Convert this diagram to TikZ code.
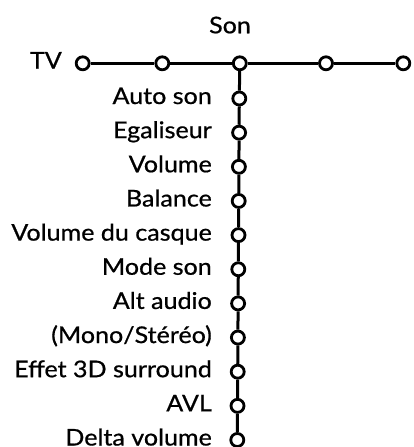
\documentclass[tikz,border=0pt]{standalone}
\usepackage{fontspec}
\setmainfont{Lato}[FakeStretch=1.09,FakeBold=0.7]
\begin{document}
\begin{tikzpicture}[x=1pt,y=-1pt,
  link/.style={line width=3pt},
  dot/.style={circle,draw,fill=white,line width=2.8pt,minimum size=13pt,inner sep=0pt},
  txt/.style={inner sep=0pt,font=\fontsize{23}{26}\selectfont},
  lbl/.style={txt,anchor=base east}]
\useasboundingbox (0,0) rectangle (413,447);
\node[dot] (h1) at (82.7,63.3) {};
\node[dot] (h2) at (162.3,63.3) {};
\node[dot] (h3) at (239.8,63.3) {};
\node[dot] (h4) at (326,63.3) {};
\node[dot] (h5) at (403.3,63.3) {};
\node[txt,anchor=base] (son) at (230,33.3) {Son};
\node[lbl] (tv) at (62,68.5) {TV};
\foreach \t [count=\i from 0] in {Auto son,Egaliseur,Volume,Balance,Volume du casque,Mode son,Alt audio,(Mono/Stéréo),Effet 3D surround,AVL,Delta volume}{
  \pgfmathsetmacro{\yy}{98.5+34.15*\i}
  \pgfmathsetmacro{\xx}{239.3-0.2*\i}
  \node[dot] (v\i) at (\xx,\yy) {};
  \node[lbl] (l\i) at (212,\yy+5.5) {\t};
}
\draw[link] (h1) -- (h2) -- (h3) -- (h4) -- (h5);
\draw[link] (h3) -- (v0);
\foreach \i [count=\j from 1] in {0,...,9}{
  \draw[link] (v\i) -- (v\j);
}
\end{tikzpicture}
\end{document}
